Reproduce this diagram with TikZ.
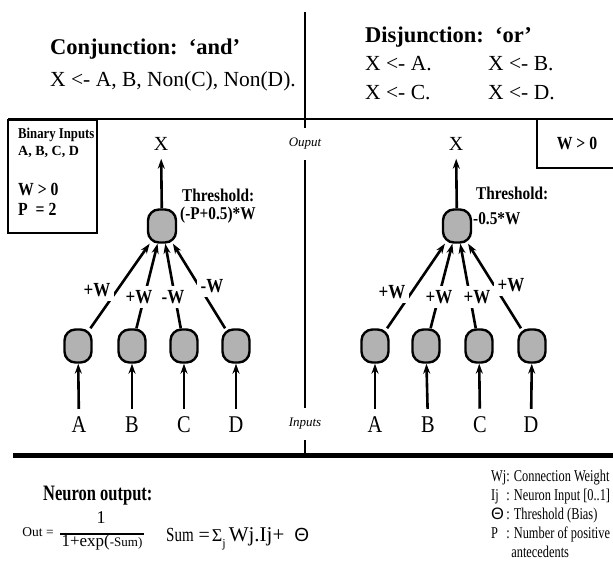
\documentclass[tikz,border=0pt]{standalone}
\usepackage{fontspec}
\setmainfont{Liberation Serif}
\newfontfamily\nrw[FakeStretch=0.85]{Liberation Serif}
\newfontfamily\xnrw[FakeStretch=0.75]{Liberation Serif}
\newfontfamily\sgreek{Liberation Sans}
\usetikzlibrary{arrows.meta}
\definecolor{cellgray}{RGB}{178,178,178}

\begin{document}
\begin{tikzpicture}[x=1pt,y=-1pt]
\tikzset{
  neuron/.style={rectangle,rounded corners=11pt,draw,line width=2.4pt,fill=cellgray,minimum width=27pt,minimum height=33pt,inner sep=0pt},
  outneuron/.style={neuron,minimum width=28pt},
  conn/.style={-{Stealth[length=10pt,width=7pt]},line width=2.6pt},
  weight/.style={fill=white,inner sep=4pt,font=\nrw\bfseries\fontsize{20}{20}\selectfont},
  letter/.style={inner sep=8pt,font=\nrw\fontsize{24}{24}\selectfont},
  outlabel/.style={inner sep=8pt,font=\fontsize{20}{20}\selectfont},
  thresh/.style={anchor=base west,inner sep=0pt,font=\nrw\bfseries\fontsize{18}{18}\selectfont},
  divider/.style={line width=2.4pt},
  sidenote/.style={inner sep=0pt,minimum height=32pt,font=\itshape\fontsize{13}{13}\selectfont},
  title/.style={anchor=base west,inner sep=0pt,font=\bfseries\fontsize{22.5}{22.5}\selectfont},
  rule/.style={anchor=base west,inner sep=0pt,font=\fontsize{21.5}{21.5}\selectfont},
  boxsmall/.style={anchor=base west,inner sep=0pt,font=\nrw\bfseries\fontsize{15}{15}\selectfont},
  boxbig/.style={anchor=base west,inner sep=0pt,font=\nrw\bfseries\fontsize{18.5}{18.5}\selectfont}
}
\useasboundingbox (0,0) rectangle (613,572);

% frame lines
\node[sidenote] (ouput) at (305,144) {Ouput};
\node[sidenote] (inputs) at (305,424) {Inputs};
\draw[divider] (305,12) -- (ouput.north);
\draw[divider] (ouput.south) -- (inputs.north);
\draw[divider] (inputs.south) -- (305,455);
\draw[line width=2pt] (8,119) -- (613,119);
\draw[line width=5pt] (13,455) -- (613,455);

% the two rules
\node[title] (conjT) at (50,55) {Conjunction:~~`and'};
\node[rule] (conjR) at (50,87) {X <- A, B, Non(C), Non(D).};
\node[title] (disjT) at (365,43) {Disjunction:~~`or'};
\node[rule] (disjA) at (365,71) {X <- A.};
\node[rule] (disjB) at (488,71) {X <- B.};
\node[rule] (disjC) at (365,100) {X <- C.};
\node[rule] (disjD) at (488,100) {X <- D.};

% side boxes
\draw[line width=2.4pt] (8,120) rectangle (97,233);
\node[boxsmall] (binT) at (18,139) {Binary Inputs};
\node[boxsmall,font=\bfseries\fontsize{14}{14}\selectfont] (binL) at (18,156) {A, B, C, D};
\node[boxbig] (wPos) at (18,196) {W > 0};
\node[boxbig] (pVal) at (18,215) {P~ = 2};
\draw[line width=2.4pt] (616,168) -- (537,168) -- (537,120);
\node[boxbig,anchor=center] (wPosR) at (577,143) {W > 0};

% conjunction net
\node[outneuron] (outL) at (162,226) {};
\node[outlabel] (xL) at (161,144) {X};
\node[thresh] (thrL) at (182,202) {Threshold:};
\node[thresh] (thrLv) at (180,220) {(-P+0.5)*W};
\node[neuron] (inLa) at (78,346) {};
\node[neuron] (inLb) at (132,346) {};
\node[neuron] (inLc) at (184,346) {};
\node[neuron] (inLd) at (236,346) {};
\node[letter] (srcLa) at (79,425) {A};
\node[letter] (srcLb) at (132,425) {B};
\node[letter] (srcLc) at (184,425) {C};
\node[letter] (srcLd) at (236,425) {D};
\draw[conn] (outL) -- (xL);
\draw[conn] (srcLa) -- (inLa);
\draw[conn] (srcLb) -- (inLb);
\draw[conn] (srcLc) -- (inLc);
\draw[conn] (srcLd) -- (inLd);
\draw[conn] (inLa) -- (outL);
\draw[conn] (inLb) -- (outL);
\draw[conn] (inLc) -- (outL);
\draw[conn] (inLd) -- (outL);
\node[weight] (wLa) at (97,290) {+W};
\node[weight] (wLb) at (139,297) {+W};
\node[weight] (wLc) at (173,297) {-W};
\node[weight] (wLd) at (212,286) {-W};

% disjunction net
\node[outneuron] (outR) at (457,226) {};
\node[outlabel] (xR) at (456,144) {X};
\node[thresh] (thrR) at (476,200) {Threshold:};
\node[thresh] (thrRv) at (473,225) {-0.5*W};
\node[neuron] (inRa) at (375,346) {};
\node[neuron] (inRb) at (426,346) {};
\node[neuron] (inRc) at (479,346) {};
\node[neuron] (inRd) at (532,346) {};
\node[letter] (srcRa) at (375,425) {A};
\node[letter] (srcRb) at (428,425) {B};
\node[letter] (srcRc) at (480,425) {C};
\node[letter] (srcRd) at (531,425) {D};
\draw[conn] (outR) -- (xR);
\draw[conn] (srcRa) -- (inRa);
\draw[conn] (srcRb) -- (inRb);
\draw[conn] (srcRc) -- (inRc);
\draw[conn] (srcRd) -- (inRd);
\draw[conn] (inRa) -- (outR);
\draw[conn] (inRb) -- (outR);
\draw[conn] (inRc) -- (outR);
\draw[conn] (inRd) -- (outR);
\node[weight] (wRa) at (392,292) {+W};
\node[weight] (wRb) at (439,297) {+W};
\node[weight] (wRc) at (477,297) {+W};
\node[weight] (wRd) at (511,285) {+W};

% neuron output formula
\node[anchor=base west,inner sep=0pt,font=\xnrw\bfseries\fontsize{22}{22}\selectfont] (nOut) at (43,500) {Neuron output:};
\node[inner sep=0pt,font=\fontsize{13.5}{13.5}\selectfont] (outEq) at (38,532) {Out =};
\node[inner sep=0pt,font=\fontsize{18}{18}\selectfont] (num) at (101,518) {1};
\node[anchor=north,inner sep=1pt,font=\fontsize{17}{17}\selectfont] (den) at (102,534) {1+exp({\fontsize{13}{13}\selectfont -Sum)}};
\draw[line width=2pt] (den.north west) -- (den.north east);
\node[anchor=base west,inner sep=0pt] (sumEq) at (166,541) {{\xnrw\fontsize{20}{20}\selectfont Sum}\hspace{5pt}{\fontsize{20}{20}\selectfont =}\hspace{2pt}{\fontsize{18}{18}\selectfont Σ}\raisebox{-6pt}{\fontsize{12}{12}\selectfont j}\hspace{3pt}{\fontsize{21}{21}\selectfont Wj.Ij+}\hspace{10pt}{\sgreek\fontsize{19}{19}\selectfont Θ}};

% legend
\node[anchor=base west,inner sep=0pt,font=\xnrw\fontsize{16.5}{19}\selectfont] (legend) at (491,481) {\begin{tabular}[t]{@{}l@{}l@{}}Wj&: Connection Weight\\ Ij&: Neuron Input [0..1]\\ {\sgreek Θ}&: Threshold (Bias)\\ P&: Number of positive\\ &\hspace{5pt}antecedents\end{tabular}};
\end{tikzpicture}
\end{document}
